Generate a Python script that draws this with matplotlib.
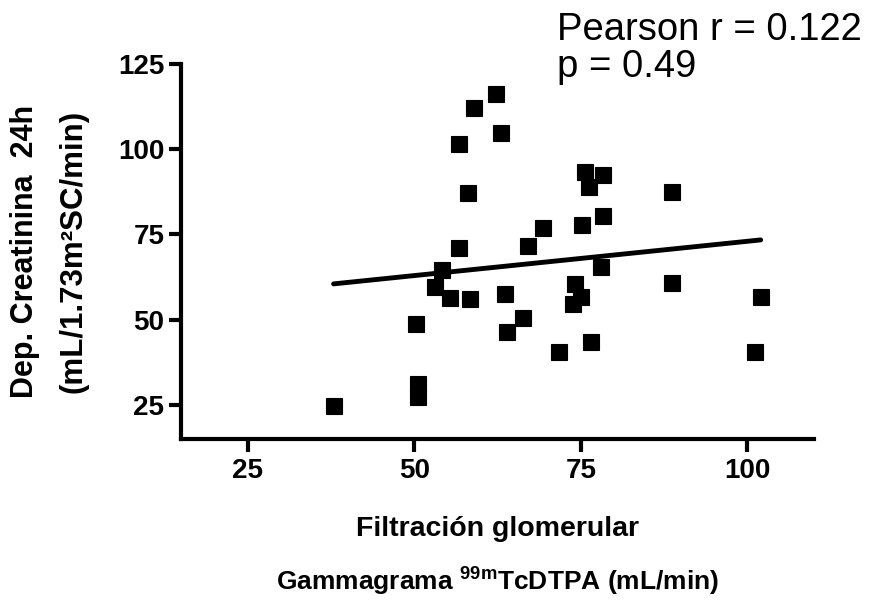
import matplotlib
matplotlib.use("Agg")
import matplotlib.pyplot as plt
import numpy as np

# ---- data ----
gfr_x = [37.9, 50.6, 50.6, 50.3, 53.1, 54.2, 55.3, 58.3, 56.7, 63.6, 64.0, 66.3,
         62.2, 58.9, 63.0, 56.7, 58.1, 69.4, 67.1, 75.7, 78.4, 76.2, 78.4, 75.2,
         78.0, 74.2, 75.0, 73.8, 76.6, 71.8, 88.7, 88.7, 102.0, 101.2]
creat_y = [24.6, 31.0, 27.4, 48.75, 59.6, 64.7, 56.4, 56.0, 71.0, 57.5, 46.5, 50.5,
           116.2, 112.1, 104.8, 101.5, 87.1, 77.0, 71.7, 93.4, 92.4, 88.8, 80.5, 77.9,
           65.4, 60.5, 56.6, 54.6, 43.4, 40.5, 87.6, 60.7, 56.6, 40.6]
fit_x = [37.9, 102.0]
fit_y = [60.5, 73.4]
x_ticks = [25, 50, 75, 100]
y_ticks = [25, 50, 75, 100, 125]
stats_line1 = "Pearson r = 0.122"
stats_line2 = "p = 0.49"

W, H = 880, 602
fam = ['Liberation Sans', 'DejaVu Sans']
plt.rcParams['font.family'] = fam
plt.rcParams['mathtext.fontset'] = 'custom'
plt.rcParams['mathtext.bf'] = 'Liberation Sans:bold'
plt.rcParams['mathtext.rm'] = 'Liberation Sans:bold'

fig = plt.figure(figsize=(W / 100, H / 100), dpi=100)
ax = fig.add_axes([181 / W, 1 - 439 / H, (814 - 181) / W, (439 - 64) / H])

ax.plot(gfr_x, creat_y, linestyle='none', marker='s', ms=12.2, mew=0.8,
        mfc='black', mec='black', zorder=3)
ax.plot(fit_x, fit_y, color='black', lw=3.5, solid_capstyle='round', zorder=2)

ax.set_xlim(15, 110)
ax.set_ylim(15, 125)
ax.set_xticks(x_ticks)
ax.set_yticks(y_ticks)
for s in ['top', 'right']:
    ax.spines[s].set_visible(False)
for s in ['left', 'bottom']:
    ax.spines[s].set_linewidth(3)
    ax.spines[s].set_capstyle('projecting')
ax.tick_params(axis='both', direction='out', length=9, width=3, colors='black')
ax.tick_params(axis='x', pad=5)
ax.tick_params(axis='y', pad=3)
for lab in ax.get_xticklabels() + ax.get_yticklabels():
    lab.set_fontsize(20)
    lab.set_fontweight('bold')
    lab.set_family(fam)

cx = (181 + 814) / 2 / W
fig.text(cx, 1 - 536 / H, "Filtración glomerular", ha='center', va='baseline',
         fontsize=20.5, fontweight='bold', family=fam)
fig.text(cx, 1 - 590 / H, r"Gammagrama $^{\mathbf{99m}}$TcDTPA (mL/min)",
         ha='center', va='baseline', fontsize=19, fontweight='bold', family=fam)

fig.text(25 / W, 1 - 251 / H, "Dep. Creatinina  24h", rotation=90,
         ha='center', va='center', fontsize=22, fontweight='bold', family=fam)
fig.text(74 / W, 1 - 251 / H, "(mL/1.73m²SC/min)", rotation=90,
         ha='center', va='center', fontsize=22.5, fontweight='bold', family=fam)

fig.text(557 / W, 1 - 40 / H, stats_line1, ha='left', va='baseline', fontsize=27.5,
         family=fam)
fig.text(557 / W, 1 - 77 / H, stats_line2, ha='left', va='baseline', fontsize=27.5,
         family=fam)

fig.savefig("out.png", dpi=100, facecolor='white')
